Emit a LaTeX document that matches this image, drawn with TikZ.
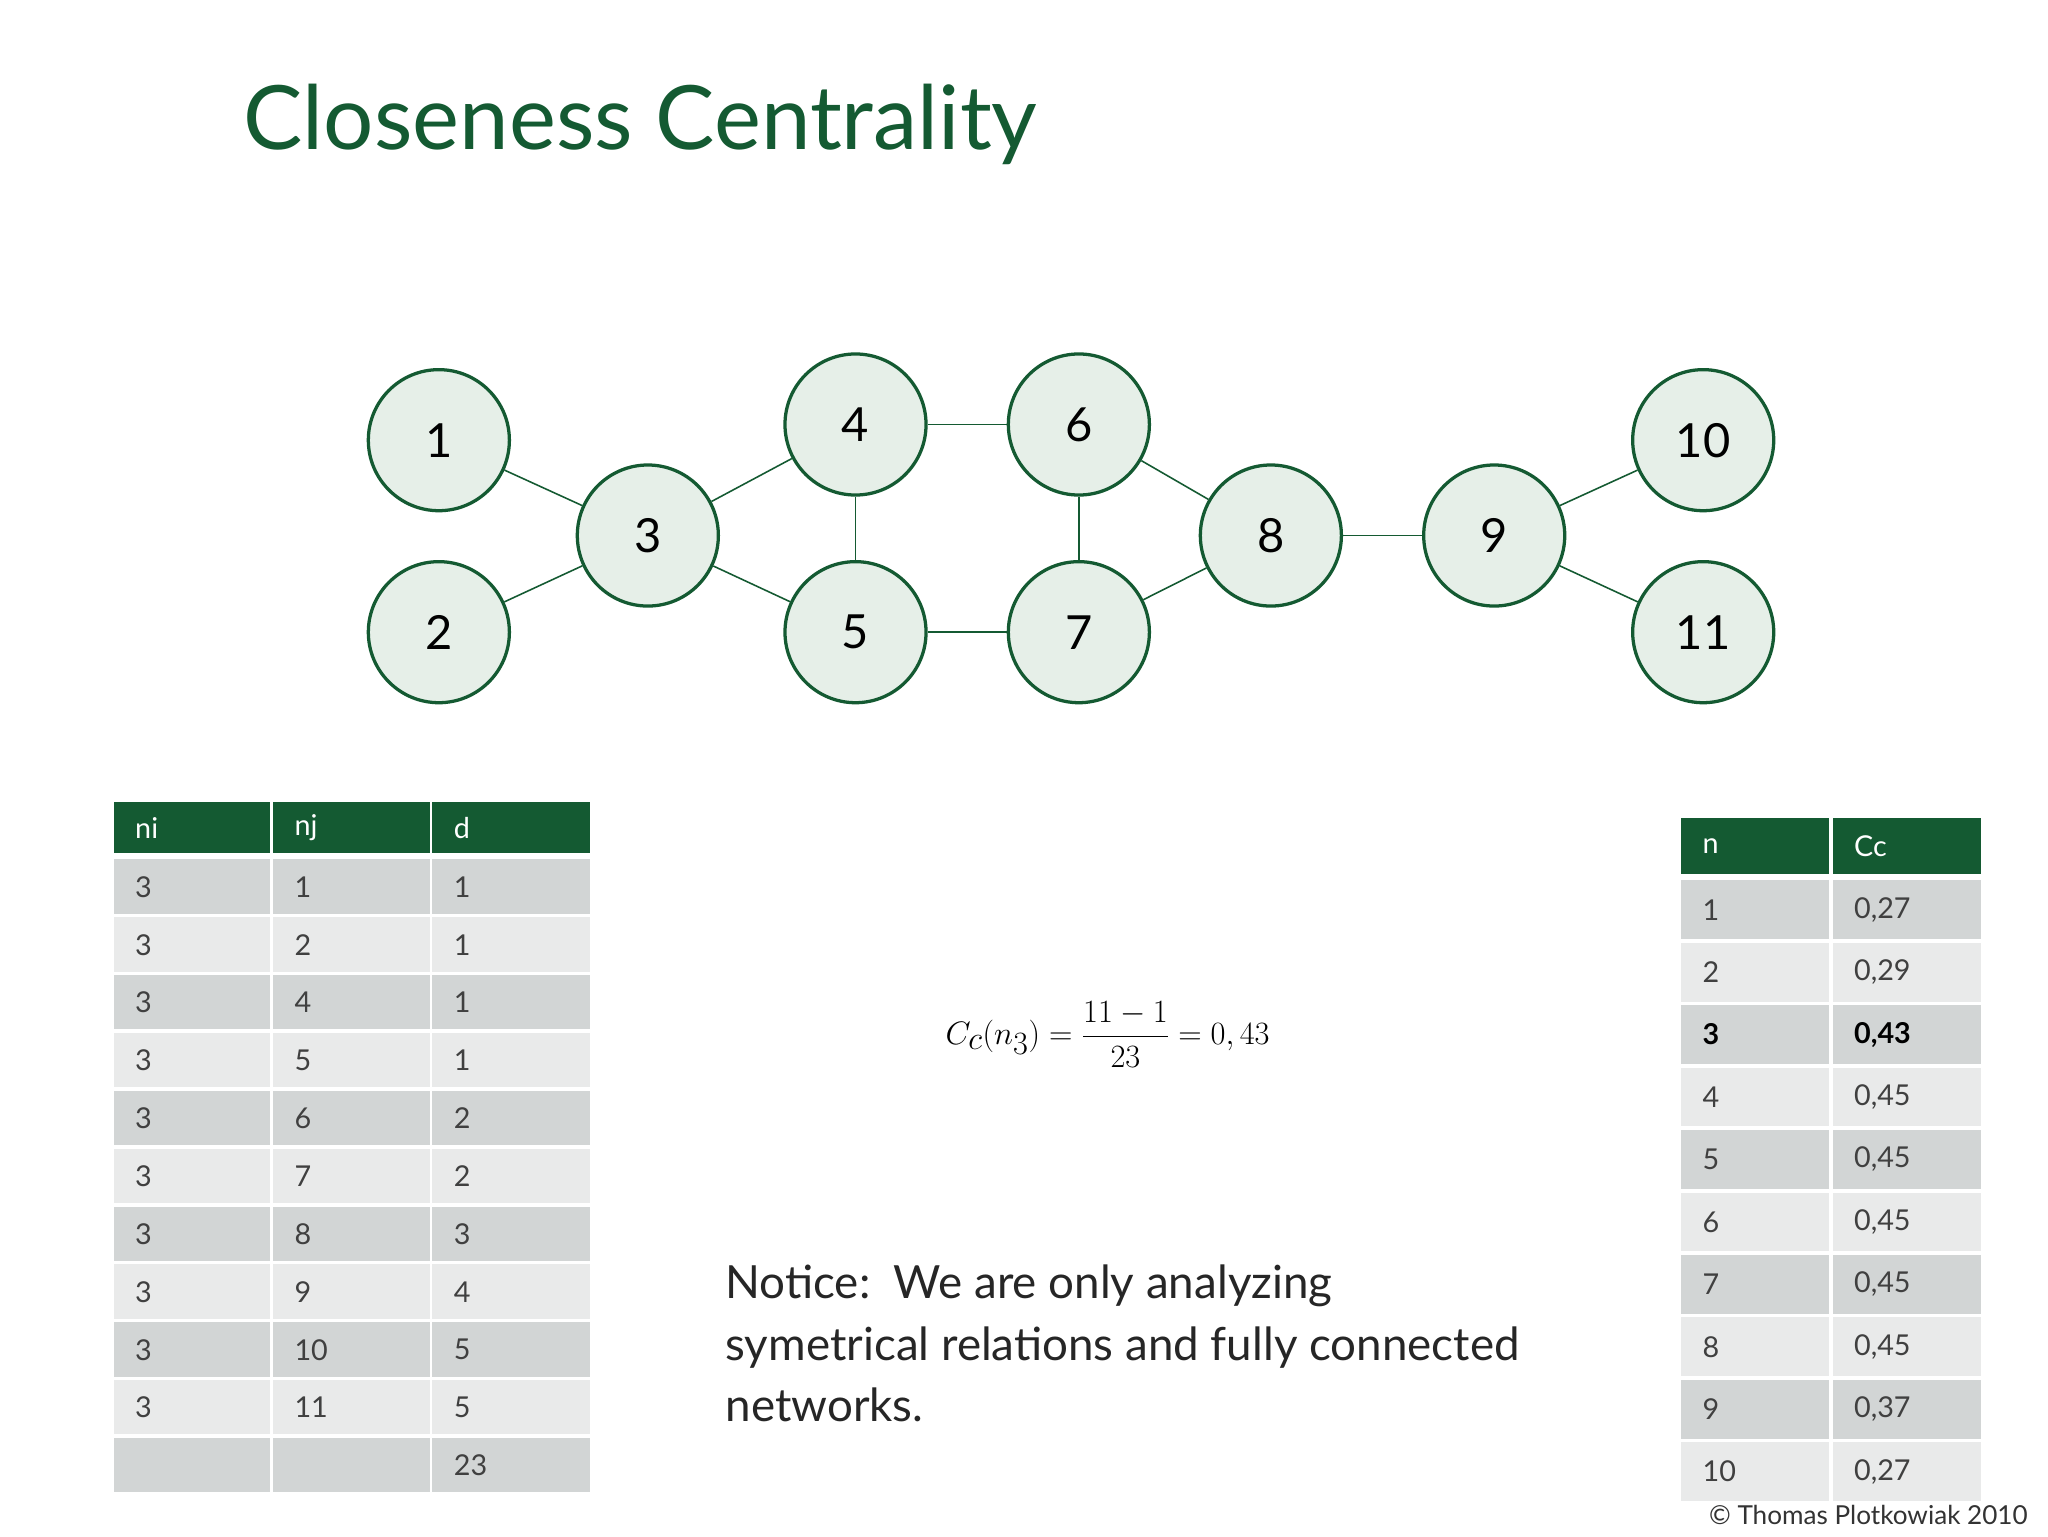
\documentclass[tikz,border=0pt]{standalone}
\usepackage{fontspec}
\setmainfont{Lato}
\definecolor{dg}{HTML}{145A32}
\definecolor{nf}{HTML}{E6EFE8}
\definecolor{rd}{HTML}{D2D5D5}
\definecolor{rl}{HTML}{E9EAEA}
\begin{document}
\begin{tikzpicture}[x=1pt,y=-1pt,
  vtx/.style={circle,draw=dg,fill=nf,line width=2.5pt,minimum size=108pt,inner sep=0pt,font=\fontsize{36}{40}\selectfont},
  edge/.style={dg,line width=1.2pt},
  cell/.style={anchor=west,font=\fontsize{22}{24}\selectfont,text=black!75}]
\useasboundingbox (0,0) rectangle (1568,1176);
\fill[white] (0,0) rectangle (1568,1176);
\node[anchor=west,text=dg,font=\fontsize{68}{72}\selectfont] (title) at (183,95) {Closeness Centrality};
% graph
\node[vtx] (n1) at (336,337) {1};
\node[vtx] (n2) at (336,484) {2};
\node[vtx] (n3) at (496,410) {3};
\node[vtx] (n4) at (655,325) {4};
\node[vtx] (n5) at (655,484) {5};
\node[vtx] (n6) at (826,325) {6};
\node[vtx] (n7) at (826,484) {7};
\node[vtx] (n8) at (973,410) {8};
\node[vtx] (n9) at (1144,410) {9};
\node[vtx] (n10) at (1304,337) {10};
\node[vtx] (n11) at (1304,484) {11};
\foreach \a/\b in {n1/n3,n2/n3,n3/n4,n3/n5,n4/n6,n4/n5,n5/n7,n6/n7,n6/n8,n7/n8,n8/n9,n9/n10,n9/n11}
  \draw[edge] (\a) -- (\b);
% left table
\fill[dg] (87,614) rectangle (207,653);
\fill[dg] (209,614) rectangle (329,653);
\fill[dg] (331,614) rectangle (452,653);
\node[cell,text=white] (h1) at (100,634) {ni};
\node[cell,text=white] (h2) at (222,634) {nj};
\node[cell,text=white] (h3) at (344,634) {d};
\foreach \i/\a/\b/\c in {0/3/1/1,1/3/2/1,2/3/4/1,3/3/5/1,4/3/6/2,5/3/7/2,6/3/8/3,7/3/9/4,8/3/10/5,9/3/11/5,10/ / /23}{
  \pgfmathsetmacro{\yt}{658+\i*44.3}
  \pgfmathsetmacro{\yb}{\yt+41.5}
  \pgfmathsetmacro{\ym}{\yt+21}
  \pgfmathtruncatemacro{\odd}{mod(\i,2)}
  \ifnum\odd=0 \def\rc{rd}\else\def\rc{rl}\fi
  \fill[\rc] (87,\yt) rectangle (207,\yb);
  \fill[\rc] (209,\yt) rectangle (329,\yb);
  \fill[\rc] (331,\yt) rectangle (452,\yb);
  \node[cell] (a\i) at (100,\ym) {\a};
  \node[cell] (b\i) at (222,\ym) {\b};
  \node[cell] (c\i) at (344,\ym) {\c};
}
% right table
\fill[dg] (1287,626) rectangle (1400,669);
\fill[dg] (1403,626) rectangle (1517,669);
\node[cell,text=white] (rh1) at (1300,648) {n};
\node[cell,text=white] (rh2) at (1416,648) {Cc};
\foreach \i/\a/\b in {0/1/0{,}27,1/2/0{,}29,2/3/0{,}43,3/4/0{,}45,4/5/0{,}45,5/6/0{,}45,6/7/0{,}45,7/8/0{,}45,8/9/0{,}37,9/10/0{,}27}{
  \pgfmathsetmacro{\yt}{674+\i*47.8}
  \pgfmathsetmacro{\yb}{\yt+45}
  \pgfmathsetmacro{\ym}{\yt+22.5}
  \pgfmathtruncatemacro{\odd}{mod(\i,2)}
  \ifnum\odd=0 \def\rc{rd}\else\def\rc{rl}\fi
  \fill[\rc] (1287,\yt) rectangle (1400,\yb);
  \fill[\rc] (1403,\yt) rectangle (1517,\yb);
  \ifnum\i=2
  \node[cell,text=black] (p\i) at (1300,\ym) {\textbf{\a}};
  \node[cell,text=black] (q\i) at (1416,\ym) {\textbf{\b}};
  \else
  \node[cell] (p\i) at (1300,\ym) {\a};
  \node[cell] (q\i) at (1416,\ym) {\b};
  \fi
}
% formula
\node (formula) at (848,792) {\fontsize{50}{56}\selectfont$\displaystyle C_c(n_3)=\frac{11-1}{23}=0,43$};
% notice
\node[anchor=north west,align=left,text=black!85,font=\fontsize{35}{47}\selectfont] (notice) at (552,965) {Notice:\ \ We are only analyzing\\symetrical relations and fully connected\\networks.};
\node[anchor=east,text=black!80,font=\fontsize{20}{22}\selectfont] (copy) at (1556,1160) {© Thomas Plotkowiak 2010};
\end{tikzpicture}
\end{document}
